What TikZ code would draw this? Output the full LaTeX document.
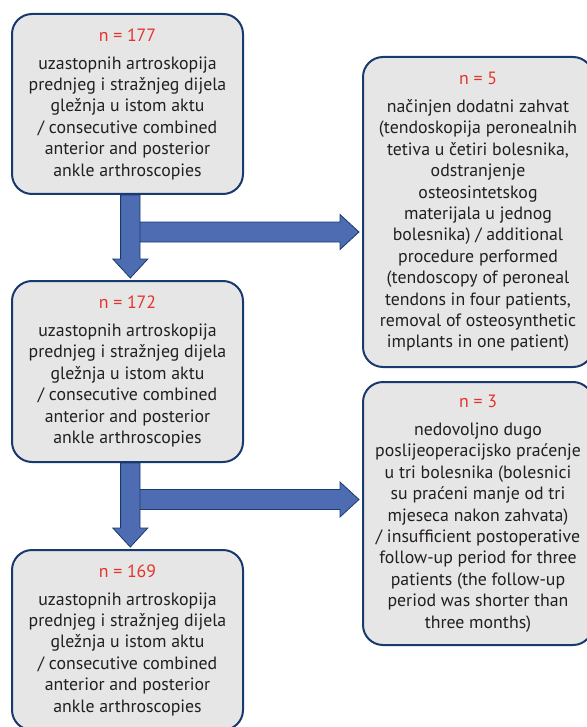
\documentclass[tikz,border=0pt]{standalone}
\usepackage{fontspec}
\setmainfont{PT Sans}
\usetikzlibrary{positioning,calc}
\definecolor{frame}{HTML}{183A6E}
\definecolor{boxgray}{HTML}{E6E6E6}
\definecolor{txt}{HTML}{231F20}
\definecolor{nred}{HTML}{E5332A}
\definecolor{flowblue}{HTML}{4E6CB2}
\newcommand{\ncount}[1]{\textcolor{nred}{#1}\\[6.6pt]}
\begin{document}
\begin{tikzpicture}[x=1pt,y=1pt,box/.style={draw=frame,line width=2pt,rounded corners=20pt,fill=boxgray,text=txt,align=center,inner sep=0pt,outer sep=0pt,minimum width=231pt,font=\fontsize{17.8}{21.4}\selectfont},flow/.style={draw=frame,line width=0.8pt,fill=flowblue}]
\useasboundingbox (0,0) rectangle (586,-727);
\node[box,minimum height=180pt] (n177) at (127.5,-104) {\ncount{n = 177}uzastopnih artroskopija\\prednjeg i stražnjeg dijela\\gležnja u istom aktu\\/ consecutive combined\\anterior and posterior\\ankle arthroscopies};
\node[box,minimum height=181pt,below=87pt of n177] (n172) {\ncount{n = 172}uzastopnih artroskopija\\prednjeg i stražnjeg dijela\\gležnja u istom aktu\\/ consecutive combined\\anterior and posterior\\ankle arthroscopies};
\node[box,minimum height=180pt,below=88pt of n172] (n169) {\ncount{n = 169}uzastopnih artroskopija\\prednjeg i stražnjeg dijela\\gležnja u istom aktu\\/ consecutive combined\\anterior and posterior\\ankle arthroscopies};
\node[box,minimum width=230pt,minimum height=310pt] (n5) at (478,-212) {\ncount{n = 5}načinjen dodatni zahvat\\(tendoskopija peronealnih\\tetiva u četiri bolesnika,\\odstranjenje\\osteosintetskog\\materijala u jednog\\bolesnika) / additional\\procedure performed\\(tendoscopy of peroneal\\tendons in four patients,\\removal of osteosynthetic\\implants in one patient)};
\node[box,minimum width=230pt,minimum height=263pt] (n3) at (478,-513.5) {\ncount{n = 3}nedovoljno dugo\\poslijeoperacijsko praćenje\\u tri bolesnika (bolesnici\\su praćeni manje od tri\\mjeseca nakon zahvata)\\/ insufficient postoperative\\follow-up period for three\\patients (the follow-up\\period was shorter than\\three months)};
\coordinate (a1) at ($(n177.south)+(2.8,-1)$);
\coordinate (b1) at ($(n172.north)+(2.8,3)$);
\coordinate (s1) at ($(n177.south)+(2.8,-38)$);
\coordinate (e1) at ($(n5.west|-s1)+(-4,0)$);
\coordinate (a2) at ($(n172.south)+(2.8,-1)$);
\coordinate (b2) at ($(n169.north)+(2.8,3)$);
\coordinate (s2) at ($(n172.south)+(2.8,-37.5)$);
\coordinate (e2) at ($(n3.west|-s2)+(-4,0)$);
\draw[flow] ($(s1)+(0,10)$)--($(e1)+(-19,10)$)--($(e1)+(-19,17.5)$)--(e1)--($(e1)+(-19,-17.5)$)--($(e1)+(-19,-10)$)--($(s1)+(0,-10)$)--cycle;
\draw[flow] ($(a1)+(-9.7,0)$)--($(b1)+(-9.7,19)$)--($(b1)+(-17.5,19)$)--(b1)--($(b1)+(17.5,19)$)--($(b1)+(9.7,19)$)--($(a1)+(9.7,0)$)--cycle;
\draw[flow] ($(s2)+(0,10)$)--($(e2)+(-19,10)$)--($(e2)+(-19,17.5)$)--(e2)--($(e2)+(-19,-17.5)$)--($(e2)+(-19,-10)$)--($(s2)+(0,-10)$)--cycle;
\draw[flow] ($(a2)+(-9.7,0)$)--($(b2)+(-9.7,19)$)--($(b2)+(-17.5,19)$)--(b2)--($(b2)+(17.5,19)$)--($(b2)+(9.7,19)$)--($(a2)+(9.7,0)$)--cycle;
\end{tikzpicture}
\end{document}
